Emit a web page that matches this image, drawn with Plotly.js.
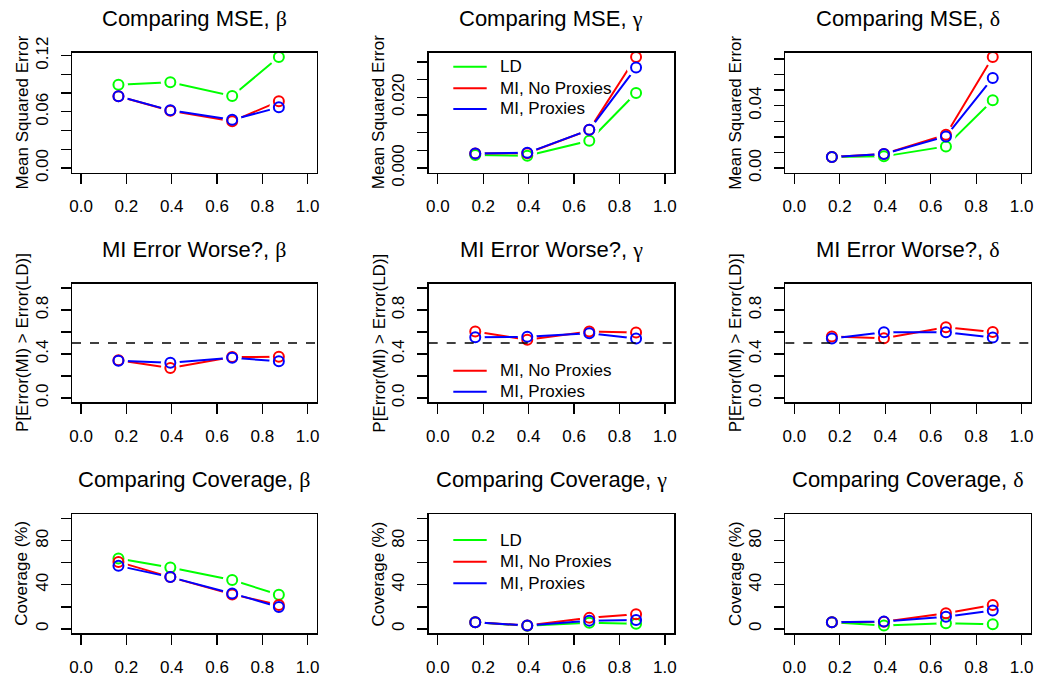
<!DOCTYPE html>
<html>
<head>
<meta charset="utf-8">
<script src="https://cdn.plot.ly/plotly-3.0.1.min.js"></script>
<style>html,body{margin:0;padding:0;background:#fff;}#plot{width:1040px;height:679px;}</style>
</head>
<body>
<div id="plot"></div>
<script>
// ---- data ----
const xVals = [0.165, 0.394, 0.667, 0.873];
const seriesNames = ["LD", "MI, No Proxies", "MI, Proxies"];
const seriesColors = ["#00ff00", "#ff0000", "#0000ff"];

const mseBetaLD = [0.0890, 0.0915, 0.0769, 0.1186];
const mseBetaNoProx = [0.0766, 0.0612, 0.0499, 0.0712];
const mseBetaProx = [0.0766, 0.0616, 0.0516, 0.0648];

const mseGammaLD = [0.0037, 0.0035, 0.0077, 0.0212];
const mseGammaNoProx = [0.0041, 0.0042, 0.0108, 0.0314];
const mseGammaProx = [0.0041, 0.0043, 0.0108, 0.0284];

const mseDeltaLD = [0.0071, 0.0075, 0.0139, 0.0435];
const mseDeltaNoProx = [0.0071, 0.0090, 0.0214, 0.0713];
const mseDeltaProx = [0.0071, 0.0090, 0.0203, 0.0578];

const worseBetaNoProx = [0.342, 0.273, 0.372, 0.375];
const worseBetaProx = [0.339, 0.321, 0.366, 0.333];
const worseGammaNoProx = [0.604, 0.529, 0.604, 0.595];
const worseGammaProx = [0.553, 0.556, 0.589, 0.541];
const worseDeltaNoProx = [0.559, 0.544, 0.643, 0.601];
const worseDeltaProx = [0.541, 0.598, 0.598, 0.550];
const worseRef = 0.5;

const covBetaLD = [63.9, 55.7, 44.3, 31.0];
const covBetaNoProx = [60.8, 47.0, 31.3, 21.7];
const covBetaProx = [57.2, 47.0, 32.2, 19.9];
const covGammaLD = [6.0, 2.8, 5.5, 4.6];
const covGammaNoProx = [6.0, 3.0, 10.0, 13.3];
const covGammaProx = [6.0, 3.0, 7.5, 8.1];
const covDeltaLD = [6.0, 3.0, 5.1, 4.2];
const covDeltaNoProx = [6.0, 6.4, 14.2, 21.7];
const covDeltaProx = [6.0, 6.6, 11.1, 16.6];

const titleStems = [
  "Comparing MSE, ", "Comparing MSE, ", "Comparing MSE, ",
  "MI Error Worse?, ", "MI Error Worse?, ", "MI Error Worse?, ",
  "Comparing Coverage, ", "Comparing Coverage, ", "Comparing Coverage, "
];
const titleGreek = ["β", "γ", "δ", "β", "γ", "δ", "β", "γ", "δ"];
const rowYTitles = ["Mean Squared Error", "P[Error(MI) > Error(LD)]", "Coverage (%)"];

const xTickVals = [0, 0.2, 0.4, 0.6, 0.8, 1.0];
const xTickText = ["0.0", "0.2", "0.4", "0.6", "0.8", "1.0"];

const yTicks1 = [0, 0.02, 0.04, 0.06, 0.08, 0.10, 0.12];
const yText1 = ["0.00", "", "", "0.06", "", "", "0.12"];
const yTicks2 = [0, 0.005, 0.010, 0.015, 0.020, 0.025, 0.030];
const yText2 = ["0.000", "", "", "", "0.020", "", ""];
const yTicks3 = [0, 0.01, 0.02, 0.03, 0.04, 0.05, 0.06, 0.07];
const yText3 = ["0.00", "", "", "", "0.04", "", "", ""];
const yTicksMid = [0, 0.2, 0.4, 0.6, 0.8, 1.0];
const yTextMid = ["0.0", "", "0.4", "", "0.8", ""];
const yTicksCov = [0, 20, 40, 60, 80, 100];
const yTextCov = ["0", "", "40", "", "80", ""];

// panel data: [LD, NoProx, Prox] (null = not drawn)
const panels = [
  {series: [mseBetaLD, mseBetaNoProx, mseBetaProx], ylim: [0, Math.max(...mseBetaLD, ...mseBetaNoProx, ...mseBetaProx)], tv: yTicks1, tt: yText1},
  {series: [mseGammaLD, mseGammaNoProx, mseGammaProx], ylim: [0, Math.max(...mseGammaLD, ...mseGammaNoProx, ...mseGammaProx)], tv: yTicks2, tt: yText2, legendRows: [66.7, 88.3, 109]},
  {series: [mseDeltaLD, mseDeltaNoProx, mseDeltaProx], ylim: [0, Math.max(...mseDeltaLD, ...mseDeltaNoProx, ...mseDeltaProx)], tv: yTicks3, tt: yText3},
  {series: [null, worseBetaNoProx, worseBetaProx], ylim: [0, 1], tv: yTicksMid, tt: yTextMid, ref: true},
  {series: [null, worseGammaNoProx, worseGammaProx], ylim: [0, 1], tv: yTicksMid, tt: yTextMid, ref: true, legendRows: [null, 370.7, 391.7]},
  {series: [null, worseDeltaNoProx, worseDeltaProx], ylim: [0, 1], tv: yTicksMid, tt: yTextMid, ref: true},
  {series: [covBetaLD, covBetaNoProx, covBetaProx], ylim: [0, 100], tv: yTicksCov, tt: yTextCov},
  {series: [covGammaLD, covGammaNoProx, covGammaProx], ylim: [0, 100], tv: yTicksCov, tt: yTextCov, legendRows: [540, 561.7, 583.3]},
  {series: [covDeltaLD, covDeltaNoProx, covDeltaProx], ylim: [0, 100], tv: yTicksCov, tt: yTextCov}
];

// ---- layout geometry (pixels) ----
const W = 1040, H = 679;
const colPx = [[72, 316.7], [428.7, 674], [785.3, 1030.7]];
const rowPx = [[52.5, 172.5], [283.7, 402.3], [514.3, 633.3]];
const FONT = "Liberation Sans, Arial, sans-serif";
const GREEK_FONT = "Liberation Serif, DejaVu Serif, serif";
const legendLineX = [453.3, 486.7], legendTextX = 497.5;

const data = [];
const layout = {
  width: W, height: H, autosize: false,
  margin: {l: 0, r: 0, t: 0, b: 0},
  paper_bgcolor: "#fff", plot_bgcolor: "#fff",
  font: {family: FONT, size: 17, color: "#000"},
  showlegend: false,
  annotations: [], shapes: []
};

panels.forEach((p, i) => {
  const r = Math.floor(i / 3), c = i % 3;
  const sfx = i === 0 ? "" : String(i + 1);
  const xa = "x" + sfx, ya = "y" + sfx;
  const [l, rr] = colPx[c], [t, b] = rowPx[r];
  const span = p.ylim[1] - p.ylim[0];
  layout["xaxis" + sfx] = {
    domain: [l / W, rr / W], anchor: ya,
    range: [-0.04, 1.04], tickvals: xTickVals, ticktext: xTickText,
    ticks: "outside", ticklen: 10, tickwidth: 1.3, tickcolor: "#000",
    showline: true, mirror: true, linecolor: "#000", linewidth: 1.5,
    showgrid: false, zeroline: false, ticklabelstandoff: 8,
    tickfont: {family: FONT, size: 17, color: "#000"}
  };
  layout["yaxis" + sfx] = {
    domain: [1 - b / H, 1 - t / H], anchor: xa,
    range: [p.ylim[0] - 0.04 * span, p.ylim[1] + 0.04 * span],
    tickvals: p.tv, ticktext: p.tt, tickangle: -90,
    ticks: "outside", ticklen: 10, tickwidth: 1.3, tickcolor: "#000",
    showline: true, mirror: true, linecolor: "#000", linewidth: 1.5,
    showgrid: false, zeroline: false, ticklabelstandoff: 6,
    tickfont: {family: FONT, size: 17, color: "#000"}
  };
  layout.annotations.push({
    text: titleStems[i] + "<span style='font-family:" + GREEK_FONT + "'>" + titleGreek[i] + "</span>",
    xref: "paper", yref: "paper",
    x: (l + rr) / 2 / W, y: 1 - (t - 34.5) / H, xanchor: "center", yanchor: "middle",
    showarrow: false, font: {family: FONT, size: 22, color: "#000"}
  });
  layout.annotations.push({
    text: rowYTitles[r], xref: "paper", yref: "paper", textangle: -90,
    x: (l - 50) / W, y: 1 - (t + b) / 2 / H, xanchor: "center", yanchor: "middle",
    showarrow: false, font: {family: FONT, size: 17, color: "#000"}
  });
  if (p.ref) {
    layout.shapes.push({
      type: "line", xref: xa + " domain", yref: ya, x0: 0, x1: 1, y0: worseRef, y1: worseRef,
      line: {color: "#000", width: 1.5, dash: "dash"}, layer: "above"
    });
  }
  if (p.legendRows) {
    p.legendRows.forEach((yy, k) => {
      if (yy === null) return;
      layout.shapes.push({
        type: "line", xref: "paper", yref: "paper",
        x0: legendLineX[0] / W, x1: legendLineX[1] / W, y0: 1 - yy / H, y1: 1 - yy / H,
        line: {color: seriesColors[k], width: 2}
      });
      layout.annotations.push({
        text: seriesNames[k], xref: "paper", yref: "paper",
        x: legendTextX / W, y: 1 - yy / H, xanchor: "left", yanchor: "middle",
        showarrow: false, font: {family: FONT, size: 17, color: "#000"}
      });
    });
  }
  // lines + gap discs, in series order
  p.series.forEach((s, k) => {
    if (!s) return;
    data.push({
      type: "scatter", mode: "lines", x: xVals, y: s, xaxis: xa, yaxis: ya,
      name: seriesNames[k], line: {color: seriesColors[k], width: 2},
      hoverinfo: "skip"
    });
    data.push({
      type: "scatter", mode: "markers", x: xVals, y: s, xaxis: xa, yaxis: ya,
      marker: {symbol: "circle", size: 19, color: "#fff", line: {width: 0}},
      hoverinfo: "skip"
    });
  });
  p.series.forEach((s, k) => {
    if (!s) return;
    data.push({
      type: "scatter", mode: "markers", x: xVals, y: s, xaxis: xa, yaxis: ya,
      marker: {symbol: "circle-open", size: 10, color: seriesColors[k], line: {width: 2, color: seriesColors[k]}},
      cliponaxis: false, name: seriesNames[k]
    });
  });
});

Plotly.newPlot("plot", data, layout, {staticPlot: true, displayModeBar: false});
</script>
</body>
</html>
